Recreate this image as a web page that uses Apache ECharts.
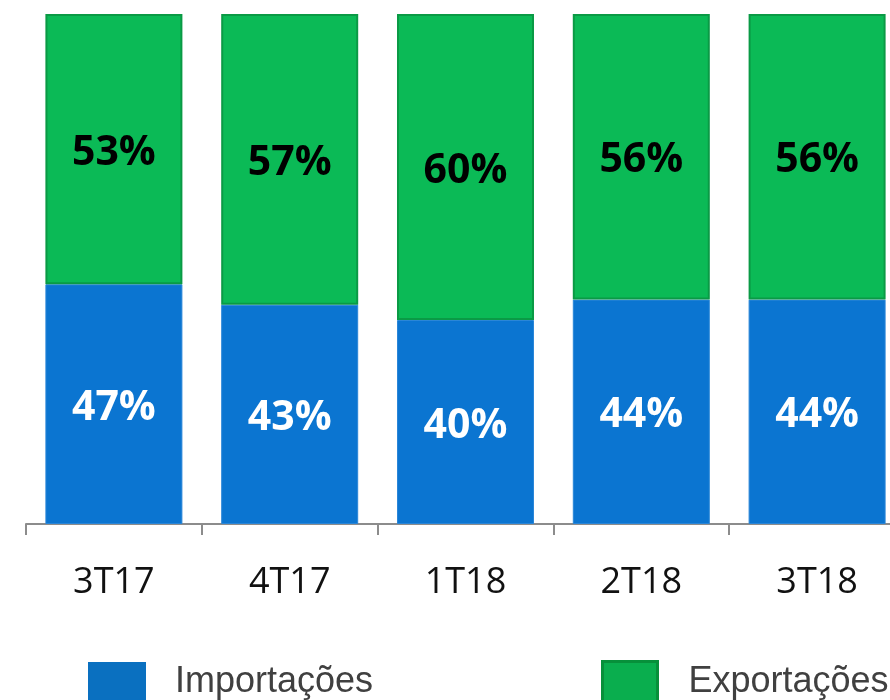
<!DOCTYPE html>
<html><head><meta charset="utf-8">
<script src="https://cdn.jsdelivr.net/npm/echarts@6/dist/echarts.min.js"></script>
<style>html,body{margin:0;padding:0;background:#fff}#c{width:890px;height:700px}</style>
</head><body><div id="c"></div>
<script>
const categories = ['3T17', '4T17', '1T18', '2T18', '3T18'];
const importacoes = [47, 43, 40, 44, 44];
const exportacoes = [53, 57, 60, 56, 56];
const seriesNames = ['Importações', 'Exportações'];

const chart = echarts.init(document.getElementById('c'), null, {renderer: 'canvas'});
const labelFont = {fontFamily: 'Open Sans', fontWeight: 'bold', fontSize: 41};
chart.setOption({
  animation: false,
  backgroundColor: '#ffffff',
  grid: {left: 26, top: 14, width: 879, bottom: 176, containLabel: false, outerBoundsMode: 'none'},
  xAxis: {
    type: 'category', data: categories,
    axisLine: {show: true, lineStyle: {color: '#8c8c8c', width: 2}},
    axisTick: {show: true, length: 11, lineStyle: {color: '#8c8c8c', width: 2}},
    axisLabel: {color: '#111', fontFamily: 'Open Sans', fontSize: 36, margin: 41}
  },
  yAxis: {type: 'value', min: 0, max: 100, show: false, splitLine: {show: false}},
  legend: [
    {data: [{name: seriesNames[0], itemStyle: {color: '#0A70C0', borderWidth: 0}}],
     left: 88, top: 662, padding: 0, itemWidth: 58, itemHeight: 40, itemGap: 0,
     icon: 'rect',
     textStyle: {fontFamily: 'Liberation Sans', fontSize: 36, color: '#404040', padding: [0, 0, 0, 24]}},
    {data: [{name: seriesNames[1], itemStyle: {color: '#0AAE4E', borderColor: '#07903A', borderWidth: 3}}],
     left: 601, top: 660, padding: 0, itemWidth: 55, itemHeight: 42, itemGap: 0,
     icon: 'rect',
     textStyle: {fontFamily: 'Liberation Sans', fontSize: 36, color: '#404040', padding: [0, 0, 0, 26]}}
  ],
  series: [
    {name: seriesNames[0], type: 'bar', stack: 't', data: importacoes, barWidth: 137,
     itemStyle: {color: '#0B75D1', borderColor: '#2a86d8', borderWidth: 1},
     label: Object.assign({show: true, position: 'inside', color: '#ffffff', formatter: '{c}%', offset: [0, 4]}, labelFont)},
    {name: seriesNames[1], type: 'bar', stack: 't', data: exportacoes, barWidth: 137,
     itemStyle: {color: '#0BBA56', borderColor: '#0A9A45', borderWidth: 2},
     label: Object.assign({show: true, position: 'inside', color: '#000000', formatter: '{c}%', offset: [0, 4]}, labelFont)}
  ]
});
</script></body></html>
